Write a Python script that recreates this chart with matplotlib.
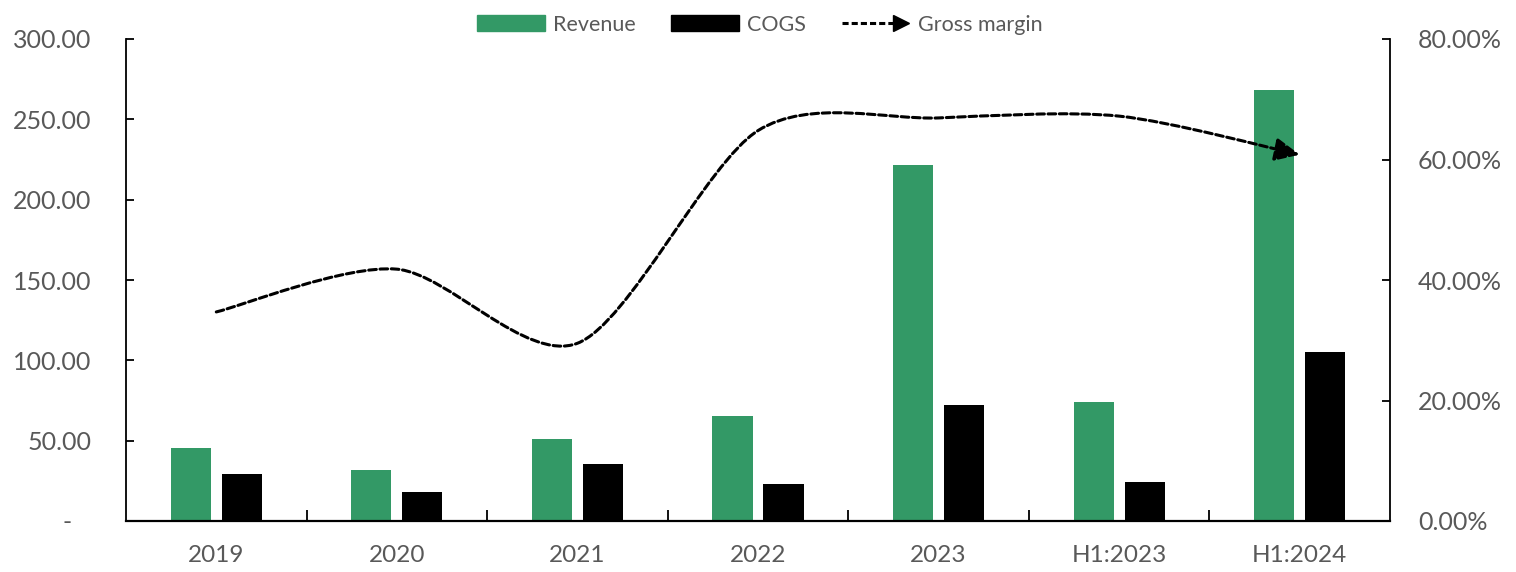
import numpy as np
import matplotlib.pyplot as plt
from matplotlib.path import Path
from matplotlib.patches import FancyArrowPatch, Patch
from matplotlib.lines import Line2D
from matplotlib.legend_handler import HandlerBase
from matplotlib.ticker import FuncFormatter

plt.rcParams['font.family'] = ['Lato', 'DejaVu Sans']

periods = ['2019', '2020', '2021', '2022', '2023', 'H1:2023', 'H1:2024']
revenue = [45.2, 31.5, 51.0, 65.3, 221.5, 74.0, 268.0]
cogs = [29.5, 18.3, 35.5, 23.0, 72.2, 24.0, 105.0]
gross_margin = [34.7, 41.8, 29.5, 64.8, 66.9, 67.2, 60.8]  # percent

green = '#339966'
grey = '#595959'


class HandlerArrowLine(HandlerBase):
    # dashed line with a filled arrow head, like the chart legend
    def create_artists(self, legend, orig_handle, xdescent, ydescent,
                       width, height, fontsize, trans):
        y = height / 2 - ydescent
        x0 = -xdescent
        x1 = width - xdescent
        line = Line2D([x0, x1 - 10], [y, y], color='black', lw=2.2,
                      ls=(0, (2, 1)), transform=trans)
        head = Line2D([x1 - 6], [y], marker='>', ms=11, color='black',
                      ls='', transform=trans)
        return [line, head]


fig = plt.figure(figsize=(15.16, 5.72), dpi=100)
ax = fig.add_axes([126/1516, 51/572, (1390-126)/1516, (521-39)/572])
ax2 = ax.twinx()

x = np.arange(len(periods))
w = 0.222
off = 0.141
ax.bar(x - off, revenue, w, color=green, zorder=2)
ax.bar(x + off, cogs, w, color='black', zorder=2)

ax.set_xlim(-0.5, len(periods) - 0.5)
ax.set_ylim(0, 300)
ax.set_yticks(np.arange(0, 301, 50))
ax.yaxis.set_major_formatter(FuncFormatter(lambda v, p: '-   ' if v == 0 else f'{v:.2f}'))
ax.set_xticks(x)
ax.set_xticklabels(periods)
ax.set_xticks(np.arange(0.5, len(periods) - 1, 1), minor=True)
ax.tick_params(axis='x', which='major', length=0, pad=17, labelsize=17.5, labelcolor=grey)
ax.tick_params(axis='x', which='minor', length=8, width=1.3, direction='in')
ax.tick_params(axis='y', length=6, width=1.3, direction='in', pad=25,
               labelsize=18, labelcolor=grey)
for s in ['top', 'right']:
    ax.spines[s].set_visible(False)
ax.spines['left'].set_linewidth(1.3)
ax.spines['bottom'].set_linewidth(1.6)

ax2.set_ylim(0, 80)
ax2.set_yticks(np.arange(0, 81, 20))
ax2.yaxis.set_major_formatter(FuncFormatter(lambda v, p: f'{v:.2f}%'))
ax2.tick_params(axis='y', length=6, width=1.3, direction='in', pad=20,
                labelsize=18, labelcolor=grey)
for s in ['top', 'left', 'bottom']:
    ax2.spines[s].set_visible(False)
ax2.spines['right'].set_linewidth(1.3)

# smoothed margin line (bezier through the points, like Excel smoothing)
pts = np.column_stack([x, gross_margin]).astype(float)
n = len(pts)
k = 1 / 7
verts = [pts[0]]
codes = [Path.MOVETO]
for i in range(n - 1):
    p0 = pts[max(i - 1, 0)]
    p1 = pts[i]
    p2 = pts[i + 1]
    p3 = pts[min(i + 2, n - 1)]
    verts += [p1 + (p2 - p0) * k, p2 - (p3 - p1) * k, p2]
    codes += [Path.CURVE4] * 3
arrow = FancyArrowPatch(path=Path(verts, codes),
                        arrowstyle='-|>,head_length=15,head_width=7',
                        mutation_scale=1, color='black', lw=2.2,
                        linestyle=(0, (2.5, 1.2)), zorder=3)
ax2.add_patch(arrow)

handles = [Patch(color=green), Patch(color='black'), Line2D([], [])]
labels = ['Revenue', 'COGS', 'Gross margin']
leg = fig.legend(handles, labels, loc='center', bbox_to_anchor=(0.501, 0.957),
                 ncol=3, frameon=False, fontsize=15.5, handlelength=3.15,
                 handleheight=0.75, handletextpad=0.37, columnspacing=1.67,
                 handler_map={Line2D: HandlerArrowLine()})
for t in leg.get_texts():
    t.set_color(grey)

fig.savefig('out.png', dpi=100)
